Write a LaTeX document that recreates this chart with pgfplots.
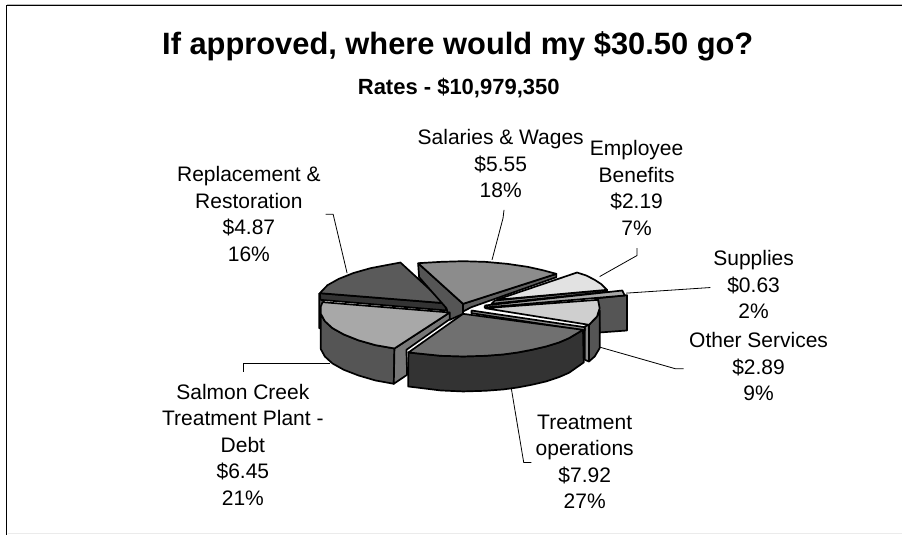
\documentclass[border=0pt]{standalone}
\usepackage{pgfplots}
\pgfplotsset{compat=1.18}
\usepackage{fontspec}
\setmainfont{Liberation Sans}
\definecolor{cRep}{HTML}{5A5A5A}
\definecolor{cSal}{HTML}{8C8C8C}
\definecolor{cEmp}{HTML}{E2E2E2}
\definecolor{cSup}{HTML}{A8A8A8}
\definecolor{cOth}{HTML}{CFCFCF}
\definecolor{cTre}{HTML}{707070}
\definecolor{cSlm}{HTML}{A8A8A8}
\definecolor{cWall}{HTML}{555555}
\definecolor{cDark}{HTML}{333333}
\definecolor{cMid}{HTML}{777777}
\pgfplotsset{
  zz/.style={x filter/.expression={300+x/3}, y filter/.expression={240+y/3}},
  pie/.style={zz, draw=black, line width=1.7pt, line join=round},
  lead/.style={draw=black, line width=0.8pt},
}
\newcommand{\lab}[3]{\node[align=center, inner sep=0pt, font=\fontsize{21}{26.6}\selectfont] at (axis cs:#1,#2) {#3};}
\begin{document}
\begin{tikzpicture}
\begin{axis}[
  scale only axis, width=902pt, height=535pt,
  xmin=0, xmax=902, ymin=0, ymax=535, y dir=reverse,
  hide axis, clip=false, axis line style={draw=none},
]
% full page extent
\addplot[draw=none, fill=white] coordinates {(0,0) (902,0) (902,535) (0,535) (0,0)};
% frame
\addplot[draw=black!28, line width=0.8pt] coordinates {(7,4.3) (902,4.3)};
\addplot[draw=black!8, line width=0.8pt] coordinates {(8,533.5) (902,533.5)};
\addplot[draw=black, line width=1pt] coordinates {(7,535) (7,5.4) (902,5.4)};
% leaders
\addplot[lead] coordinates {(600,276.7) (637.3,255.7) (637.3,248.3)};
\addplot[lead] coordinates {(626.7,293.3) (710.7,287.7)};
\addplot[lead] coordinates {(600,347.3) (676,369) (684,369)};
\addplot[lead] coordinates {(511.7,389.3) (524,462.7) (531.7,462.7)};
\addplot[lead] coordinates {(330,364) (243.3,364) (243.3,372.3)};
\addplot[lead] coordinates {(347.3,273.3) (333.3,214.3) (325.7,214.3)};
\addplot[lead] coordinates {(492.3,260) (503.3,218.3) (504.3,210)};
% Replacement: left rim, side, top
\addplot[pie, fill=cWall] coordinates {(58,160) (58,265) (72,265) (72,185) (58,160)};
\addplot[pie, fill=cDark] coordinates {(60,160) (435,190) (440,212) (62,180) (60,160)};
\addplot[pie, fill=cRep] coordinates {(435,190) (302,68) (259,76) (212,85) (161,99.5) (117,117) (83,136) (60,160) (435,190)};
% centre
\addplot[pie, fill=cWall] coordinates {(355,70) (490,192) (490,222) (450,240) (440,205) (358,112) (355,70)};
% Salaries
\addplot[pie, fill=cMid!80!black] coordinates {(490,192) (770,102) (770,112) (515,202) (490,215) (490,192)};
\addplot[pie, fill=cSal] coordinates {(490,192) (355,70) (423,66) (490,64) (557,66) (623,72) (684,81) (729,91) (770,102) (490,192)};
% Employee Benefits
\addplot[pie, fill=cSal] coordinates {(585,182) (922,150) (922,156) (575,192) (585,182)};
\addplot[pie, fill=cEmp] coordinates {(590,180) (832,98) (860,107) (885,120) (905,133) (922,150) (590,180)};
% Supplies
\addplot[pie, fill=cWall] coordinates {(895,175) (982,166) (982,272) (900,278) (895,175)};
\addplot[pie, fill=cSup] coordinates {(555,197) (968,152) (975,167) (555,203) (555,197)};
% Other Services
\addplot[pie, fill=cWall] coordinates {(868,255) (892,230) (900,212) (900,325) (885,350) (868,365) (868,255)};
\addplot[pie, fill=cSal] coordinates {(855,260) (868,255) (868,365) (855,360) (855,260)};
\addplot[pie, fill=cOth] coordinates {(555,205) (895,180) (900,205) (892,230) (868,255) (555,205)};
\addplot[pie, fill=cSal] coordinates {(515,212) (855,262) (855,272) (515,220) (515,212)};
% Salmon Creek
\addplot[pie, fill=cWall] coordinates {(284,326) (227,316) (176,301.5) (132,284) (98,265) (75,244) (63,222) (63,328) (75,350) (98,371) (132,390) (176,407) (227,422) (282,432) (284,326)};
\addplot[pie, fill=cMid] coordinates {(284,326) (450,218) (450,238) (320,330) (322,405) (282,432) (284,326)};
\addplot[pie, fill=cSlm] coordinates {(450,218) (284,326) (227,316) (176,301.5) (132,284) (98,265) (75,244) (63,222) (63,200) (68,187) (450,218)};
% Treatment operations
\addplot[pie, fill=cDark] coordinates {(850,270) (852,368) (808,399) (778,412) (739,425) (696,435) (654,443) (610,449) (557,453) (490,455) (423,452) (325,440) (326,338) (423,348) (490,350) (557,348) (610,344) (654,338) (696,330) (739,320) (778,308) (808,295) (850,270)};
\addplot[pie, fill=cTre] coordinates {(490,222) (850,270) (808,295) (778,308) (739,320) (696,330) (654,338) (610,344) (557,348) (490,350) (423,348) (326,338) (490,222)};
% titles
\node[font=\fontsize{30.85}{36}\selectfont\bfseries, inner sep=0pt] at (axis cs:458,46) {If approved, where would my \$30.50 go?};
\node[font=\fontsize{22}{24}\selectfont\bfseries, inner sep=0pt] at (axis cs:459,88) {Rates - \$10,979,350};
% labels
\lab{501}{164}{Salaries \& Wages\\\$5.55\\18\%}
\lab{637}{188}{Employee\\Benefits\\\$2.19\\7\%}
\lab{249}{214}{Replacement \&\\Restoration\\\$4.87\\16\%}
\lab{754}{285}{Supplies\\\$0.63\\2\%}
\lab{759}{367}{Other Services\\\$2.89\\9\%}
\lab{585}{462}{Treatment\\operations\\\$7.92\\27\%}
\lab{243}{445}{Salmon Creek\\Treatment Plant -\\Debt\\\$6.45\\21\%}
\end{axis}
\end{tikzpicture}
\end{document}
